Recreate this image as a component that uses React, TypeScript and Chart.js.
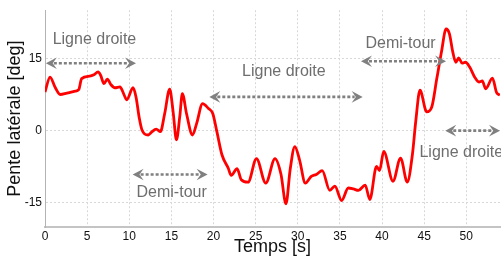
import { useEffect, useRef } from 'react';
import { Chart, registerables } from 'chart.js';

Chart.register(...registerables);

const timeValues = [
  0, 0.6, 1.2, 1.8, 2.6, 3.6, 4.0, 4.35, 5.3, 5.8, 6.3, 6.6, 7.0, 7.4, 7.8, 8.3, 8.9, 9.3, 9.7, 10.45,
  10.8, 11.2, 11.5, 12.25, 12.65, 13.2, 13.7, 14.2, 14.8, 15.2, 15.6, 16.0, 16.3, 16.8, 17.5, 18.0,
  18.7, 19.4, 19.9, 20.4, 21.0, 21.75, 22.1, 22.8, 23.3, 24.1, 25.1, 26.2, 27.3, 28.0, 28.6, 29.1,
  29.65, 30.2, 30.9, 31.6, 32.2, 32.9, 33.8, 34.4, 35.2, 36.0, 36.6, 37.2, 38.0, 38.55, 39.35, 39.7,
  40.2, 41.3, 42.2, 43.0, 43.6, 44.0, 44.5, 45.3, 45.9, 46.5, 47.05, 47.6, 48.0, 48.4, 48.75, 49.1,
  49.5, 49.9, 50.4, 51.0, 51.5, 51.9, 52.3, 53.1, 53.6, 54.0,
];
const slopeValues = [
  8.0, 11.1, 9.0, 7.5, 7.8, 8.2, 8.5, 10.8, 11.3, 11.6, 12.2, 11.5, 9.75, 10.7, 9.6, 8.9, 9.1, 7.8, 6.4, 8.9,
  7.0, 2.5, 0.2, -0.9, -0.3, 0.3, -0.2, 3.5, 8.6, 4.0, -1.9, 3.0, 7.7, 3.5, -0.9, 1.5,
  5.6, 4.6, 3.6, -0.2, -5.0, -7.8, -9.3, -7.9, -10.2, -10.7, -5.8, -10.9, -5.8, -9.0, -15.2, -8.0,
  -3.3, -6.0, -10.9, -9.5, -9.1, -8.3, -12.4, -11.5, -14.5, -11.9, -12.1, -12.4, -11.3, -14.3, -7.4, -8.3,
  -4.3, -10.5, -5.7, -10.7, -5.0, 1.9, 8.4, 3.9, 4.9, 10.8, 16.3, 21.1, 20.1, 16.3, 14.2, 15.1,
  14.0, 14.2, 13.2, 11.1, 10.1, 10.3, 8.7, 10.9, 7.9, 7.4,
];

const xTickValues = [0, 5, 10, 15, 20, 25, 30, 35, 40, 45, 50];
const yTickValues = [-15, 0, 15];

const arrowStart = [0.1, 19.5, 37.5, 10.4, 47.5];
const arrowEnd = [10.8, 37.7, 47.6, 19.3, 54.0];
const arrowLevel = [14, 7, 14.4, -9.1, 0];

const labelTexts = ['Ligne droite', 'Ligne droite', 'Demi-tour', 'Demi-tour', 'Ligne droite'];
const labelTime = [5.87, 28.35, 42.2, 15.03, 49.4];
const labelLevel = [18.8, 12.2, 18.1, -12.9, -4.5];

const FONT = '"Liberation Sans", Arial, sans-serif';

function drawHead(ctx: CanvasRenderingContext2D, tipX: number, tipY: number, dir: number) {
  const L = 11;
  const H = 5.8;
  ctx.beginPath();
  ctx.moveTo(tipX, tipY);
  ctx.lineTo(tipX + dir * L, tipY - H);
  ctx.lineTo(tipX + dir * L * 0.62, tipY);
  ctx.lineTo(tipX + dir * L, tipY + H);
  ctx.closePath();
  ctx.fill();
}

const annotationPlugin = {
  id: 'arrowAnnotations',
  afterDatasetsDraw(chart: any) {
    const { ctx, scales } = chart;
    const xs = scales.x;
    const ys = scales.y;
    ctx.save();
    ctx.fillStyle = '#808080';
    ctx.strokeStyle = '#808080';
    for (let i = 0; i < arrowStart.length; i++) {
      const x1 = xs.getPixelForValue(arrowStart[i]);
      const x2 = xs.getPixelForValue(arrowEnd[i]);
      const yy = ys.getPixelForValue(arrowLevel[i]);
      drawHead(ctx, x1, yy, 1);
      drawHead(ctx, x2, yy, -1);
      ctx.save();
      ctx.lineWidth = 2.6;
      ctx.setLineDash([3, 2]);
      ctx.beginPath();
      ctx.moveTo(x1 + 8, yy);
      ctx.lineTo(x2 - 8, yy);
      ctx.stroke();
      ctx.restore();
    }
    ctx.fillStyle = '#6e6e6e';
    ctx.font = '16px ' + FONT;
    ctx.textAlign = 'center';
    ctx.textBaseline = 'middle';
    for (let i = 0; i < labelTexts.length; i++) {
      ctx.fillText(labelTexts[i], xs.getPixelForValue(labelTime[i]), ys.getPixelForValue(labelLevel[i]));
    }
    ctx.restore();
  },
};

export default function App() {
  const canvasRef = useRef<HTMLCanvasElement | null>(null);

  useEffect(() => {
    document.body.style.margin = '0';
    const canvas = canvasRef.current;
    if (!canvas) return;
    const points = timeValues.map((t, i) => ({ x: t, y: slopeValues[i] }));
    const chart = new Chart(canvas, {
      type: 'line',
      data: {
        datasets: [
          {
            data: points,
            borderColor: '#ff0000',
            borderWidth: 2.8,
            pointRadius: 0,
            cubicInterpolationMode: 'monotone',
            fill: false,
          },
        ],
      },
      options: {
        animation: false,
        responsive: false,
        maintainAspectRatio: false,
        layout: { padding: { top: 8, right: 1, left: 0, bottom: 0 } },
        plugins: {
          legend: { display: false },
          tooltip: { enabled: false },
        },
        scales: {
          x: {
            type: 'linear',
            min: 0,
            max: 54,
            afterBuildTicks: (scale: any) => {
              scale.ticks = xTickValues.map((v) => ({ value: v }));
            },
            afterFit: (scale: any) => {
              scale.height = 32;
            },
            ticks: {
              font: { size: 12, family: FONT },
              color: '#111',
              padding: 2,
              maxRotation: 0,
              autoSkip: false,
            },
            grid: { color: '#d8d8d8', lineWidth: 1, drawTicks: false },
            border: { display: true, color: '#c4c4c4', width: 2, dash: [2, 2] },
            title: {
              display: true,
              text: 'Temps [s]',
              font: { size: 18, family: FONT },
              color: '#111',
              padding: { top: 0, bottom: 1 },
            },
          },
          y: {
            type: 'linear',
            min: -20,
            max: 25,
            afterBuildTicks: (scale: any) => {
              scale.ticks = yTickValues.map((v) => ({ value: v }));
            },
            afterFit: (scale: any) => {
              scale.width = 45;
            },
            ticks: {
              font: { size: 12, family: FONT },
              color: '#111',
              padding: 3,
              autoSkip: false,
            },
            grid: { color: '#d8d8d8', lineWidth: 1, drawTicks: false },
            border: { display: true, color: '#b4b4b4', width: 1, dash: [2, 2] },
            title: {
              display: true,
              text: 'Pente latérale [deg]',
              font: { size: 18, family: FONT },
              color: '#111',
              padding: { top: 4, bottom: 0 },
            },
          },
        },
      },
      plugins: [annotationPlugin],
    } as any);
    return () => chart.destroy();
  }, []);

  return (
    <div style={{ width: 501, height: 259 }}>
      <canvas ref={canvasRef} width={501} height={259} style={{ display: 'block' }} />
    </div>
  );
}
